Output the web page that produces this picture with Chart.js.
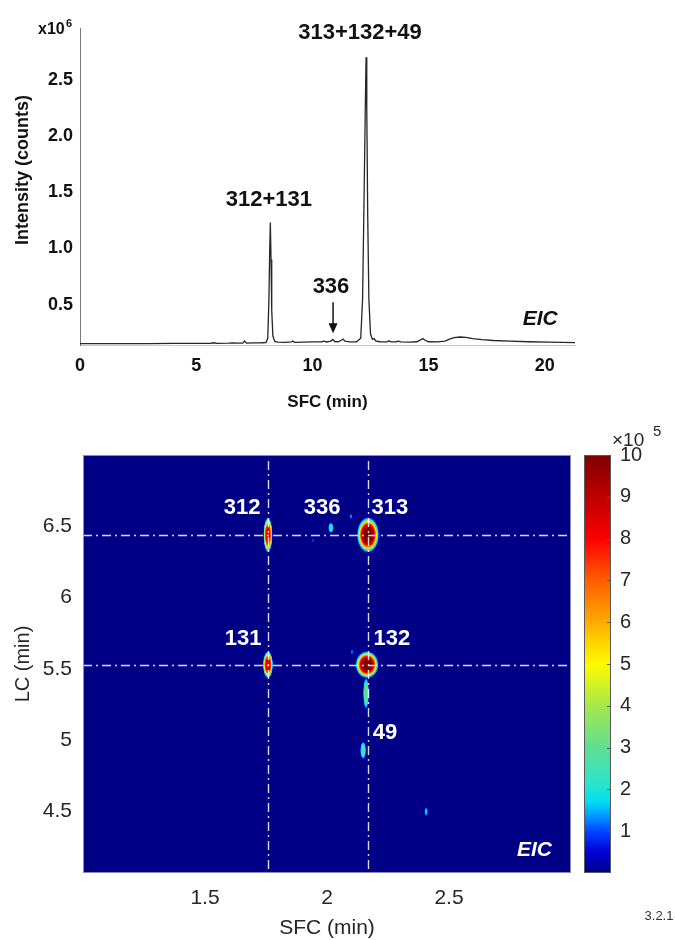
<!DOCTYPE html>
<html>
<head>
<meta charset="utf-8">
<script src="https://cdn.jsdelivr.net/npm/chart.js@4.4.1/dist/chart.umd.min.js"></script>
<style>
  html, body { margin: 0; padding: 0; background: #fff; }
  #wrap { position: relative; width: 675px; height: 940px; }
  #eic { position: absolute; left: 0; top: 0; }
  #heat { position: absolute; left: 0; top: 420px; }
</style>
</head>
<body>
<div id="wrap">
  <canvas id="eic" width="675" height="420"></canvas>
  <canvas id="heat" width="675" height="520"></canvas>
</div>
<script>
// ---------- EIC trace, SFC dimension (intensity in 10^6 counts)
const sfcTime = [0.00, 1.00, 2.00, 3.00, 4.00, 5.00, 5.60, 5.75, 5.90, 6.40, 6.60, 6.75, 7.00, 7.08, 7.16,
  7.50, 7.80, 8.00, 8.08, 8.13, 8.16, 8.19, 8.22, 8.25, 8.30, 8.38, 8.50, 8.80, 9.10, 9.15, 9.25, 9.60,
  10.00, 10.40, 10.50, 10.60, 10.80, 10.88, 10.96, 11.10, 11.25, 11.32, 11.40, 11.60, 11.90, 12.08,
  12.16, 12.22, 12.28, 12.31, 12.34, 12.38, 12.43, 12.50, 12.58, 12.66, 12.72, 12.90, 13.20, 13.30,
  13.38, 13.60, 13.70, 13.80, 14.20, 14.50, 14.65, 14.75, 14.85, 15.00, 15.40, 15.70, 15.90, 16.10,
  16.35, 16.60, 16.90, 17.30, 17.80, 18.50, 19.30, 20.20, 21.30];
const intensity = [0.152, 0.152, 0.153, 0.153, 0.154, 0.154, 0.155, 0.160, 0.155, 0.156, 0.159, 0.156, 0.157, 0.175, 0.157,
  0.159, 0.160, 0.162, 0.20, 0.55, 0.95, 1.23, 0.90, 0.45, 0.22, 0.172, 0.165, 0.163, 0.167, 0.175, 0.163, 0.165,
  0.167, 0.169, 0.175, 0.167, 0.175, 0.189, 0.171, 0.169, 0.182, 0.193, 0.175, 0.167, 0.169, 0.20,
  0.55, 1.40, 2.30, 2.70, 2.25, 1.30, 0.55, 0.24, 0.192, 0.197, 0.177, 0.169, 0.167, 0.177,
  0.167, 0.169, 0.175, 0.167, 0.165, 0.169, 0.185, 0.197, 0.182, 0.169, 0.167, 0.175, 0.192, 0.205,
  0.211, 0.207, 0.197, 0.187, 0.180, 0.174, 0.169, 0.165, 0.162];
const eicXTicks = [0, 5, 10, 15, 20];
const eicYTicks = [0.5, 1.0, 1.5, 2.0, 2.5];

const eicLabels = ["313+132+49", "312+131", "336"];
const eicLabelTime = [12.05, 8.13, 10.8];
const eicLabelInt = [2.92, 1.43, 0.66];
const arrow336 = [10.89, 0.52, 0.245]; // time, from, to

// ---------- 2D map, SFC x LC (intensity in 10^5 counts)
const spotSfc = [1.943, 2.098, 2.016, 2.102, 2.406, 2.148, 2.160, 1.758, 2.168, 1.758, 2.164];
const spotLc = [6.40, 6.57, 6.49, 5.62, 4.50, 4.93, 5.33, 6.44, 6.44, 5.53, 5.53];
const spotIntensity = [0.9, 1.3, 2.2, 1.1, 1.6, 2.6, 3.0, 8.2, 10.0, 8.4, 10.0];
const spotSfcWidth = [0.006, 0.007, 0.012, 0.007, 0.008, 0.013, 0.013, 0.020, 0.048, 0.022, 0.050];
const spotLcWidth = [0.014, 0.018, 0.040, 0.020, 0.032, 0.066, 0.120, 0.130, 0.130, 0.100, 0.100];

const spotNames = ["312", "336", "313", "131", "132", "49"];
const spotNameSfc = [1.652, 1.980, 2.258, 1.656, 2.266, 2.238];
const spotNameLc = [6.63, 6.63, 6.63, 5.71, 5.71, 5.05];

const markerSfc = [1.758, 2.168];
const markerLc = [6.44, 5.53];

const sfcTicks = [1.5, 2, 2.5];
const lcTicks = [4.5, 5, 5.5, 6, 6.5];
const colorbarTicks = [1, 2, 3, 4, 5, 6, 7, 8, 9, 10];

// colour map (fraction of max -> rgb)
const cmapStops = [
  [0.00, 0, 0, 135], [0.05, 0, 0, 215], [0.10, 0, 70, 255], [0.135, 0, 150, 255],
  [0.17, 0, 220, 245], [0.21, 40, 228, 205], [0.30, 95, 222, 145], [0.40, 165, 232, 75],
  [0.50, 255, 250, 0], [0.56, 255, 205, 0], [0.62, 255, 155, 0], [0.71, 255, 85, 0],
  [0.80, 250, 0, 0], [0.90, 190, 0, 0], [1.00, 128, 0, 0]
];
function cmap(t) {
  t = Math.max(0, Math.min(1, t));
  for (let i = 1; i < cmapStops.length; i++) {
    const a = cmapStops[i - 1], b = cmapStops[i];
    if (t <= b[0]) {
      const f = (t - a[0]) / (b[0] - a[0]);
      return [0, 1, 2].map(k => Math.round(a[k + 1] + (b[k + 1] - a[k + 1]) * f));
    }
  }
  return cmapStops[cmapStops.length - 1].slice(1);
}

const SANS = '"Liberation Sans", Arial, sans-serif';
const noEdgePad = s => { s.paddingTop = 0; s.paddingBottom = 0; s.paddingLeft = 0; s.paddingRight = 0; };

// ---------- top: EIC
const eicDecor = {
  id: 'eicDecor',
  afterDraw(chart) {
    const { ctx, scales: { x, y } } = chart;
    ctx.save();
    ctx.fillStyle = '#111';
    ctx.strokeStyle = '#111';
    ctx.textAlign = 'center';
    ctx.textBaseline = 'middle';
    ctx.font = 'bold 22px ' + SANS;
    eicLabels.forEach((t, i) => {
      ctx.fillText(t, x.getPixelForValue(eicLabelTime[i]), y.getPixelForValue(eicLabelInt[i]));
    });
    // arrow to 336
    const ax = x.getPixelForValue(arrow336[0]);
    const ay0 = y.getPixelForValue(arrow336[1]);
    const ay1 = y.getPixelForValue(arrow336[2]);
    ctx.lineWidth = 1.5;
    ctx.beginPath(); ctx.moveTo(ax, ay0); ctx.lineTo(ax, ay1 - 8); ctx.stroke();
    ctx.beginPath(); ctx.moveTo(ax - 4.5, ay1 - 10); ctx.lineTo(ax + 4.5, ay1 - 10); ctx.lineTo(ax, ay1);
    ctx.closePath(); ctx.fill();
    // EIC tag
    ctx.font = 'italic bold 21px ' + SANS;
    ctx.fillText('EIC', x.getPixelForValue(19.8), y.getPixelForValue(0.37));
    // exponent
    ctx.textAlign = 'left';
    ctx.textBaseline = 'alphabetic';
    ctx.font = 'bold 16px ' + SANS;
    ctx.fillText('x10', 38, 34);
    ctx.font = 'bold 11px ' + SANS;
    ctx.fillText('6', 66, 27);
    // y title
    ctx.translate(23, 170);
    ctx.rotate(-Math.PI / 2);
    ctx.textAlign = 'center';
    ctx.textBaseline = 'middle';
    ctx.font = 'bold 18px ' + SANS;
    ctx.fillText('Intensity (counts)', 0, 0);
    ctx.restore();
  }
};

new Chart(document.getElementById('eic'), {
  type: 'line',
  data: {
    datasets: [{
      data: sfcTime.map((t, i) => ({ x: t, y: intensity[i] })),
      borderColor: '#262626',
      borderWidth: 1.3,
      pointRadius: 0,
      tension: 0,
      fill: false
    }]
  },
  options: {
    responsive: false,
    animation: false,
    layout: { padding: { top: 28, right: 100, bottom: 0, left: 0 } },
    plugins: { legend: { display: false }, tooltip: { enabled: false } },
    scales: {
      x: {
        type: 'linear', min: 0, max: 21.3,
        afterBuildTicks: s => { s.ticks = eicXTicks.map(v => ({ value: v })); },
        afterFit: s => { s.height = 75; noEdgePad(s); },
        grid: { display: false, drawTicks: false },
        border: { color: '#c8c8c8', width: 1 },
        ticks: { padding: 10, color: '#111', maxRotation: 0, font: { family: SANS, size: 18, weight: 'bold' } },
        title: { display: true, text: 'SFC (min)', color: '#111', font: { family: SANS, size: 17, weight: 'bold' }, padding: { top: 0, bottom: 7 } }
      },
      y: {
        min: 0.14, max: 2.96,
        afterBuildTicks: s => { s.ticks = eicYTicks.map(v => ({ value: v })); },
        afterFit: s => { s.width = 80; noEdgePad(s); },
        grid: { display: false, drawTicks: false },
        border: { color: '#7a7a7a', width: 1 },
        ticks: { padding: 7, color: '#111', font: { family: SANS, size: 18, weight: 'bold' }, callback: v => v.toFixed(1) }
      }
    }
  },
  plugins: [eicDecor]
});

// ---------- bottom: 2D map
function drawSpot(ctx, px, py, rx, ry, peak) {
  ctx.save();
  ctx.translate(px, py);
  ctx.scale(rx, ry);
  const g = ctx.createRadialGradient(0, 0, 0, 0, 0, 1);
  const k = Math.log(peak / 0.25);
  for (let i = 0; i <= 30; i++) {
    const r = i / 30;
    const v = peak * Math.exp(-k * Math.pow(r, 5));
    const a = Math.max(0, Math.min(1, (v - 0.25) / 0.6));
    const c = cmap(v / 10);
    g.addColorStop(r, `rgba(${c[0]},${c[1]},${c[2]},${a.toFixed(3)})`);
  }
  ctx.fillStyle = g;
  ctx.beginPath();
  ctx.arc(0, 0, 1, 0, Math.PI * 2);
  ctx.fill();
  ctx.restore();
}

const mapDecor = {
  id: 'mapDecor',
  beforeDatasetsDraw(chart) {
    const { ctx, chartArea: a, scales: { x, y } } = chart;
    ctx.save();
    ctx.beginPath(); ctx.rect(a.left, a.top, a.right - a.left, a.bottom - a.top); ctx.clip();
    const bg = cmap(0);
    ctx.fillStyle = `rgb(${bg[0]},${bg[1]},${bg[2]})`;
    ctx.fillRect(a.left, a.top, a.right - a.left, a.bottom - a.top);
    chart.data.datasets[0].data.forEach(p => {
      const px = x.getPixelForValue(p.x), py = y.getPixelForValue(p.y);
      const rx = Math.abs(x.getPixelForValue(p.x + p.wx) - px);
      const ry = Math.abs(y.getPixelForValue(p.y + p.wy) - py);
      drawSpot(ctx, px, py, rx, ry, p.v);
    });
    ctx.restore();
  },
  afterDatasetsDraw(chart) {
    const { ctx, chartArea: a, scales: { x, y, cb } } = chart;
    ctx.save();
    // marker lines
    ctx.strokeStyle = 'rgba(255,255,255,0.85)';
    ctx.lineWidth = 1.4;
    ctx.setLineDash([9, 4, 2, 4]);
    markerSfc.forEach(v => {
      const px = Math.round(x.getPixelForValue(v)) + 0.5;
      ctx.beginPath(); ctx.moveTo(px, a.top + 6); ctx.lineTo(px, a.bottom); ctx.stroke();
    });
    markerLc.forEach(v => {
      const py = Math.round(y.getPixelForValue(v)) + 0.5;
      ctx.beginPath(); ctx.moveTo(a.left, py); ctx.lineTo(a.right + 3, py); ctx.stroke();
    });
    ctx.setLineDash([]);
    // frame
    ctx.strokeStyle = '#8c8cb0';
    ctx.lineWidth = 1;
    ctx.strokeRect(a.left + 0.5, a.top + 0.5, a.right - a.left - 1, a.bottom - a.top - 1);
    // labels
    ctx.fillStyle = '#fff';
    ctx.textAlign = 'center';
    ctx.textBaseline = 'middle';
    ctx.font = 'bold 22px ' + SANS;
    spotNames.forEach((t, i) => ctx.fillText(t, x.getPixelForValue(spotNameSfc[i]), y.getPixelForValue(spotNameLc[i])));
    ctx.font = 'italic bold 21px ' + SANS;
    ctx.fillText('EIC', x.getPixelForValue(2.85), y.getPixelForValue(4.23));

    // colour bar
    const bx0 = 584, bx1 = 611;
    const yTop = cb.getPixelForValue(10), yBot = cb.getPixelForValue(0);
    const grad = ctx.createLinearGradient(0, yBot, 0, yTop);
    cmapStops.forEach(s => grad.addColorStop(s[0], `rgb(${s[1]},${s[2]},${s[3]})`));
    ctx.fillStyle = grad;
    ctx.fillRect(bx0, yTop, bx1 - bx0, yBot - yTop);
    ctx.strokeStyle = '#5a5a5a';
    ctx.strokeRect(bx0 + 0.5, yTop + 0.5, bx1 - bx0 - 1, yBot - yTop - 1);
    colorbarTicks.forEach(v => {
      const py = Math.round(cb.getPixelForValue(v)) + 0.5;
      ctx.beginPath(); ctx.moveTo(bx1 - 4, py); ctx.lineTo(bx1, py); ctx.stroke();
    });
    // colour bar exponent
    ctx.fillStyle = '#262626';
    ctx.textAlign = 'left';
    ctx.textBaseline = 'alphabetic';
    ctx.font = '19px ' + SANS;
    ctx.fillText('\u00d710', 612, 26);
    ctx.font = '15px ' + SANS;
    ctx.fillText('5', 653, 16);
    // figure tag
    ctx.font = '13px ' + SANS;
    ctx.fillStyle = '#333';
    ctx.textAlign = 'center';
    ctx.fillText('3.2.1', 659, 500);
    ctx.restore();
  }
};

const tickFont = { family: SANS, size: 21 };
new Chart(document.getElementById('heat'), {
  type: 'scatter',
  data: {
    datasets: [{
      data: spotSfc.map((s, i) => ({ x: s, y: spotLc[i], v: spotIntensity[i], wx: spotSfcWidth[i], wy: spotLcWidth[i] })),
      pointRadius: 0
    }]
  },
  options: {
    responsive: false,
    animation: false,
    layout: { padding: { top: 35, right: 0, bottom: 0, left: 0 } },
    plugins: { legend: { display: false }, tooltip: { enabled: false } },
    scales: {
      x: {
        type: 'linear', min: 1.0, max: 3.0,
        afterBuildTicks: s => { s.ticks = sfcTicks.map(v => ({ value: v })); },
        afterFit: s => { s.height = 67; noEdgePad(s); },
        grid: { display: false, drawTicks: false },
        border: { display: false },
        ticks: { padding: 13, color: '#262626', maxRotation: 0, font: tickFont, callback: v => String(v) },
        title: { display: true, text: 'SFC (min)', color: '#262626', font: { family: SANS, size: 21, lineHeight: 1 }, padding: { top: 0, bottom: 1 } }
      },
      y: {
        type: 'linear', min: 4.07, max: 7.0,
        afterBuildTicks: s => { s.ticks = lcTicks.map(v => ({ value: v })); },
        afterFit: s => { s.width = 83; noEdgePad(s); },
        grid: { display: false, drawTicks: false },
        border: { display: false },
        ticks: { padding: 11, color: '#262626', font: tickFont, callback: v => String(v) },
        title: { display: true, text: 'LC (min)', color: '#262626', font: { family: SANS, size: 20 }, padding: { top: 11, bottom: 0 } }
      },
      cb: {
        type: 'linear', position: 'right', min: 0, max: 10,
        afterBuildTicks: s => { s.ticks = colorbarTicks.map(v => ({ value: v })); },
        afterFit: s => { s.width = 104; noEdgePad(s); },
        grid: { display: false, drawTicks: false },
        border: { display: false },
        ticks: { padding: 49, color: '#262626', font: { family: SANS, size: 20 } }
      }
    }
  },
  plugins: [mapDecor]
});
</script>
</body>
</html>
